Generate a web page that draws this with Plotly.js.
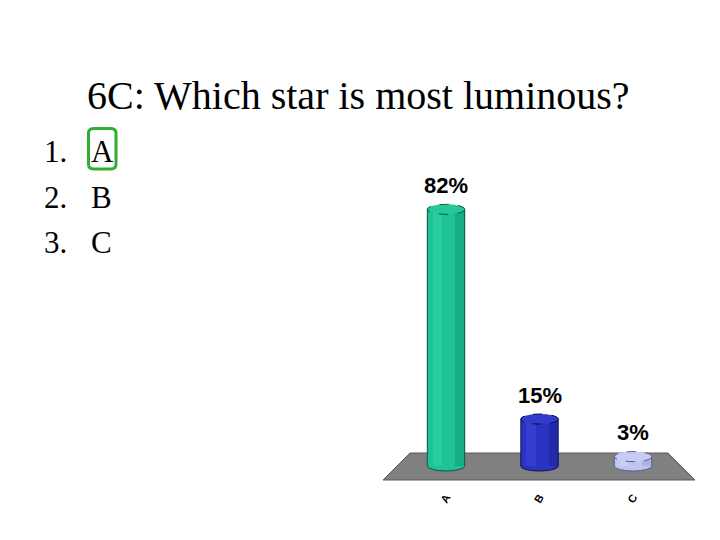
<!DOCTYPE html>
<html>
<head>
<meta charset="utf-8">
<script src="https://cdn.plot.ly/plotly-3.0.1.min.js"></script>
<style>
  html, body { margin: 0; padding: 0; background: #fff; }
  #chart { width: 720px; height: 540px; }
</style>
</head>
<body>
<div id="chart"></div>
<script>
// poll results: 6C
const questionTitle = '6C: Which star is most luminous?';
const choices = ['A', 'B', 'C'];
const percents = [82, 15, 3];
const correctIndex = 0;

// cylinder colours per bar
const bodyColors = ['#1fc293', '#2b33c2', '#c0c4ee'];
const lightColors = ['#2acd9e', '#353dcc', '#cbcef6'];
const darkColors = ['#17ad83', '#2329a8', '#aeb2e0'];
const topColors = ['#26c898', '#333bca', '#c8ccf4'];
const edgeColors = ['#0d5a40', '#0a0c50', '#5a5e90'];

const W = 720, H = 540;
const px = (x) => x / W;          // pixel -> paper (margins are 0)
const py = (y) => 1 - y / H;

const BAR_W = 0.4;
const RY = 1.6;                   // half height of the cylinder caps, in % units

const traces = [
  {
    type: 'bar', x: choices, y: percents, width: BAR_W,
    marker: { color: bodyColors, line: { width: 0 } },
    hoverinfo: 'x+y'
  },
  {
    type: 'bar', x: choices, y: percents, width: 0.1, offset: -0.14,
    marker: { color: lightColors, line: { width: 0 } }, hoverinfo: 'skip'
  },
  {
    type: 'bar', x: choices, y: percents, width: 0.1, offset: 0.1,
    marker: { color: darkColors, line: { width: 0 } }, hoverinfo: 'skip'
  }
];

// floor of the 3D plot (pixel polygon)
const floor = [[410, 453], [668, 453], [695, 480], [383, 480]];
const shapes = [{
  type: 'path', xref: 'paper', yref: 'paper', layer: 'below',
  path: 'M' + floor.map(p => px(p[0]) + ',' + py(p[1])).join(' L') + ' Z',
  fillcolor: '#808080', line: { color: '#5a5a5a', width: 1 }
}];

percents.forEach((v, i) => {
  // bottom cap
  shapes.push({
    type: 'circle', xref: 'x', yref: 'y', layer: 'below',
    x0: i - BAR_W / 2, x1: i + BAR_W / 2, y0: -RY, y1: RY,
    fillcolor: bodyColors[i], line: { color: edgeColors[i], width: 1 }
  });
  // side edges
  [-1, 1].forEach(s => shapes.push({
    type: 'line', xref: 'x', yref: 'y', layer: 'above',
    x0: i + s * BAR_W / 2, x1: i + s * BAR_W / 2, y0: 0, y1: v,
    line: { color: edgeColors[i], width: 1 }
  }));
  // top cap
  shapes.push({
    type: 'circle', xref: 'x', yref: 'y', layer: 'above',
    x0: i - BAR_W / 2, x1: i + BAR_W / 2, y0: v - RY, y1: v + RY,
    fillcolor: topColors[i], line: { color: edgeColors[i], width: 1, dash: 'dash' }
  });
});

// green box round the correct answer
const bx0 = 88.5, bx1 = 116, by0 = 128.5, by1 = 169, r = 5;
shapes.push({
  type: 'path', xref: 'paper', yref: 'paper', layer: 'above',
  path: `M${px(bx0 + r)},${py(by0)} L${px(bx1 - r)},${py(by0)} Q${px(bx1)},${py(by0)} ${px(bx1)},${py(by0 + r)}` +
        ` L${px(bx1)},${py(by1 - r)} Q${px(bx1)},${py(by1)} ${px(bx1 - r)},${py(by1)}` +
        ` L${px(bx0 + r)},${py(by1)} Q${px(bx0)},${py(by1)} ${px(bx0)},${py(by1 - r)}` +
        ` L${px(bx0)},${py(by0 + r)} Q${px(bx0)},${py(by0)} ${px(bx0 + r)},${py(by0)} Z`,
  line: { color: '#2fae2f', width: 3 }, fillcolor: 'rgba(0,0,0,0)',
  visible: correctIndex === 0
});

const sans = 'Liberation Sans, Arial, sans-serif';
const serif = 'Liberation Serif, serif';

const annotations = [];
// question title
annotations.push({
  x: px(358), y: py(95), xref: 'paper', yref: 'paper', xanchor: 'center', yanchor: 'middle',
  showarrow: false, text: questionTitle, font: { family: serif, size: 40, color: '#000' }
});

percents.forEach((v, i) => annotations.push({
  x: i, y: v, xref: 'x', yref: 'y', yshift: 24, showarrow: false,
  text: '<b>' + v + '%</b>', font: { family: sans, size: 22, color: '#000' },
  xanchor: 'center', yanchor: 'middle'
}));

// numbered answer list on the left
choices.forEach((c, i) => {
  const y = py(151 + i * 46);
  annotations.push({
    x: px(42), y, xref: 'paper', yref: 'paper', xanchor: 'left', yanchor: 'middle',
    showarrow: false, text: (i + 1) + '.', font: { family: serif, size: 31, color: '#000' }
  });
  annotations.push({
    x: px(89), y, xref: 'paper', yref: 'paper', xanchor: 'left', yanchor: 'middle',
    showarrow: false, text: c, font: { family: serif, size: 31, color: '#000' }
  });
});

const layout = {
  width: W, height: H,
  margin: { l: 0, r: 0, t: 0, b: 0 },
  paper_bgcolor: '#fff', plot_bgcolor: 'rgba(0,0,0,0)',
  showlegend: false, barmode: 'overlay', bargap: 0,
  xaxis: {
    type: 'category', range: [-0.8, 2.8], domain: [0.51556, 0.98306],
    showgrid: false, zeroline: false, showline: false, ticks: '',
    tickangle: -60, ticklabelstandoff: 0,
    tickfont: { family: sans, size: 11, color: '#000', weight: 'bold' },
    fixedrange: true
  },
  yaxis: {
    range: [-7, 100], domain: [0.09646, 0.71667],
    visible: false, fixedrange: true
  },
  shapes, annotations
};

Plotly.newPlot('chart', traces, layout, { displayModeBar: false, staticPlot: true });
</script>
</body>
</html>
